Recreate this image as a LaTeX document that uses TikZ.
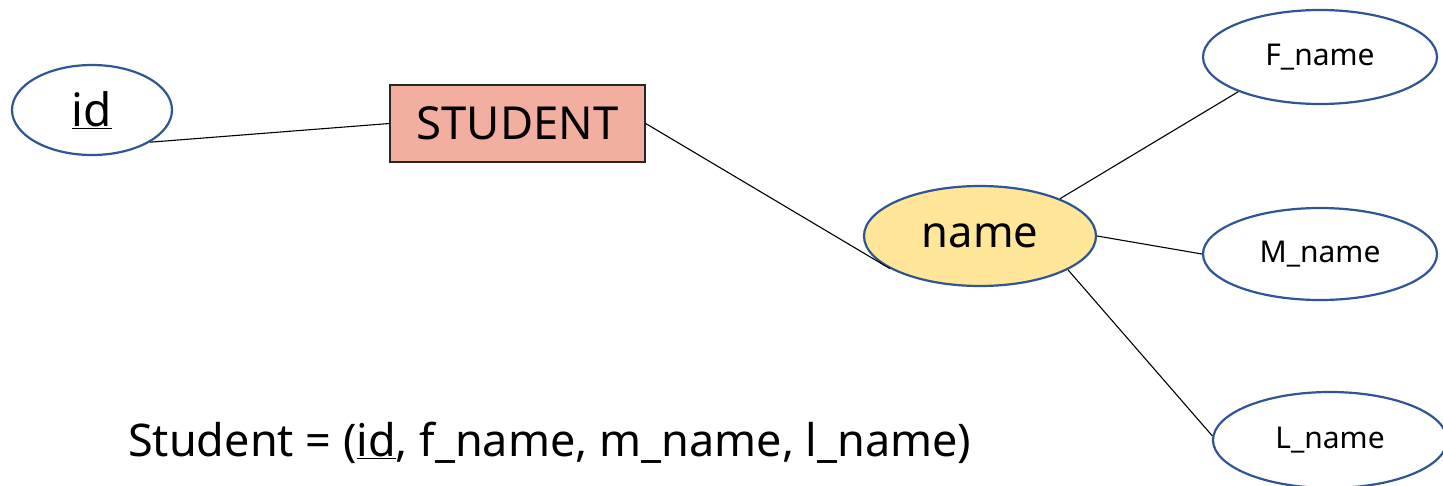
\documentclass[tikz,border=0pt]{standalone}
\usepackage{fontspec}
\setmainfont{Noto Sans}
\usetikzlibrary{shapes.geometric}
\definecolor{ebord}{HTML}{2F5597}
\definecolor{salmon}{HTML}{F2AFA0}
\definecolor{lyellow}{HTML}{FFE699}
\tikzset{
  attr/.style={ellipse, draw=ebord, line width=2.2pt, fill=white, inner sep=0pt},
  ent/.style={rectangle, draw=black!85, line width=1.4pt, fill=salmon, inner sep=0pt},
  conn/.style={draw=black, line width=1.1pt}
}
\begin{document}
\begin{tikzpicture}[x=1pt,y=-1pt]
\useasboundingbox (0,0) rectangle (1443,485);
\node[attr, minimum width=160pt, minimum height=90pt, font=\fontsize{46}{52}\selectfont] (id) at (92,110) {\underline{id}};
\node[ent, minimum width=255pt, minimum height=77pt, font=\fontsize{45.5}{52}\selectfont] (student) at (517.5,123.5) {STUDENT};
\node[attr, fill=lyellow, minimum width=232pt, minimum height=100pt, font=\fontsize{43.5}{50}\selectfont] (name) at (980,236) {name};
\node[attr, minimum width=234pt, minimum height=94pt, font=\fontsize{30}{36}\selectfont] (fname) at (1320,57) {F\_name};
\node[attr, minimum width=234pt, minimum height=92pt, font=\fontsize{30}{36}\selectfont] (mname) at (1320,254) {M\_name};
\node[attr, minimum width=234pt, minimum height=96pt, font=\fontsize{30}{36}\selectfont] (lname) at (1330,440) {L\_name};
\node[anchor=base west, inner sep=0pt, font=\fontsize{45}{52}\selectfont] (rel) at (128,456) {Student = (\underline{id}, f\_name, m\_name, l\_name)};
\draw[conn] (id.-29) -- (student.west);
\draw[conn] (student.east) -- (name.200);
\draw[conn] (name.25) -- (fname.203);
\draw[conn] (name.east) -- (mname.west);
\draw[conn] (name.-21) -- (lname.178);
\end{tikzpicture}
\end{document}
